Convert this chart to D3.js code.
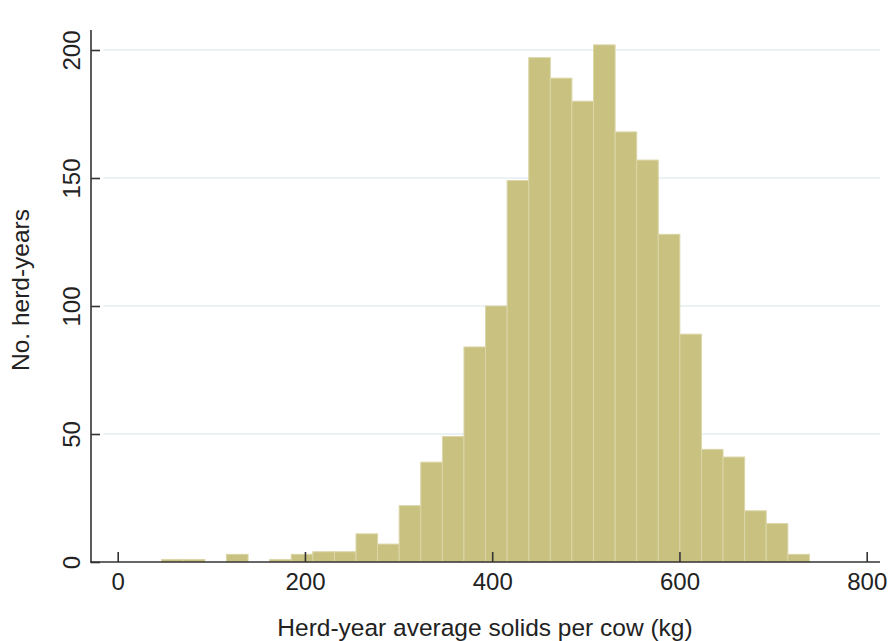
<!DOCTYPE html>
<html>
<head>
<meta charset="utf-8">
<script src="https://cdn.jsdelivr.net/npm/d3@7"></script>
<style>
  html, body { margin: 0; padding: 0; background: #ffffff; }
  svg { display: block; }
  text { font-family: Arial, "Liberation Sans", sans-serif; fill: #222; }
</style>
</head>
<body>
<svg id="chart" width="889" height="641"></svg>
<script>
// Histogram: herd-year average milk solids per cow (kg)
const binStart = 47.0;     // lower edge of the first bin (kg)
const binWidth = 23.06;    // bin width (kg)
const counts = [
  1, 1, 0, 3, 0, 1, 3, 4, 4, 11,
  7, 22, 39, 49, 84, 100, 149, 197, 189, 180,
  202, 168, 157, 128, 89, 44, 41, 20, 15, 3
];
const xTicks = [0, 200, 400, 600, 800];
const yTicks = [0, 50, 100, 150, 200];
const gridTicks = [50, 100, 150, 200];
const xTitle = "Herd-year average solids per cow (kg)";
const yTitle = "No. herd-years";

const bins = counts.map((c, i) => ({
  x0: binStart + i * binWidth,
  x1: binStart + (i + 1) * binWidth,
  n: c
}));

const svg = d3.select("#chart");
const axisLeftX = 91, axisRightX = 880, axisTopY = 30, axisBottomY = 562;

const x = d3.scaleLinear().domain([0, 800]).range([117.7, 866.7]);
const y = d3.scaleLinear().domain([0, 200]).range([axisBottomY, 50]);

// horizontal gridlines
svg.append("g")
  .selectAll("line")
  .data(gridTicks)
  .join("line")
  .attr("x1", 103).attr("x2", axisRightX)
  .attr("y1", d => y(d)).attr("y2", d => y(d))
  .attr("stroke", "#e5eef0")
  .attr("stroke-width", 1.5);

// bars
svg.append("g")
  .selectAll("rect")
  .data(bins.filter(b => b.n > 0))
  .join("rect")
  .attr("x", d => x(d.x0))
  .attr("width", d => x(d.x1) - x(d.x0))
  .attr("y", d => y(d.n))
  .attr("height", d => y(0) - y(d.n))
  .attr("fill", "#c8c17f")
  .attr("stroke", "#dbd6a8")
  .attr("stroke-width", 1);

// x axis
const gx = svg.append("g")
  .attr("transform", `translate(0,${axisBottomY})`)
  .call(d3.axisBottom(x).tickValues(xTicks).tickSizeInner(-10).tickSizeOuter(0).tickPadding(11));
gx.select(".domain").remove();
gx.selectAll(".tick line").attr("stroke", "#333").attr("stroke-width", 1.6);
gx.selectAll(".tick text")
  .style("font-size", "24px")
  .style("font-family", "Arial, 'Liberation Sans', sans-serif")
  .attr("fill", "#222");

// y axis
const gy = svg.append("g")
  .attr("transform", `translate(${axisLeftX},0)`)
  .call(d3.axisLeft(y).tickValues(yTicks).tickSizeInner(-9).tickSizeOuter(0));
gy.select(".domain").remove();
gy.selectAll(".tick line").attr("stroke", "#333").attr("stroke-width", 1.6);
gy.selectAll(".tick text")
  .attr("transform", "rotate(-90)")
  .attr("x", 0)
  .attr("y", -11)
  .attr("dy", 0)
  .attr("text-anchor", "middle")
  .style("font-size", "24px")
  .style("font-family", "Arial, 'Liberation Sans', sans-serif")
  .attr("fill", "#222");

// axis lines
svg.append("line")
  .attr("x1", axisLeftX).attr("x2", axisLeftX)
  .attr("y1", axisTopY).attr("y2", axisBottomY + 0.8)
  .attr("stroke", "#333").attr("stroke-width", 1.6);
svg.append("line")
  .attr("x1", axisLeftX - 0.8).attr("x2", axisRightX)
  .attr("y1", axisBottomY).attr("y2", axisBottomY)
  .attr("stroke", "#333").attr("stroke-width", 1.6);

// axis titles
svg.append("text")
  .attr("x", 485).attr("y", 636)
  .attr("text-anchor", "middle")
  .style("font-size", "24.5px")
  .text(xTitle);

svg.append("text")
  .attr("transform", "translate(29,290) rotate(-90)")
  .attr("text-anchor", "middle")
  .style("font-size", "24.5px")
  .text(yTitle);
</script>
</body>
</html>
